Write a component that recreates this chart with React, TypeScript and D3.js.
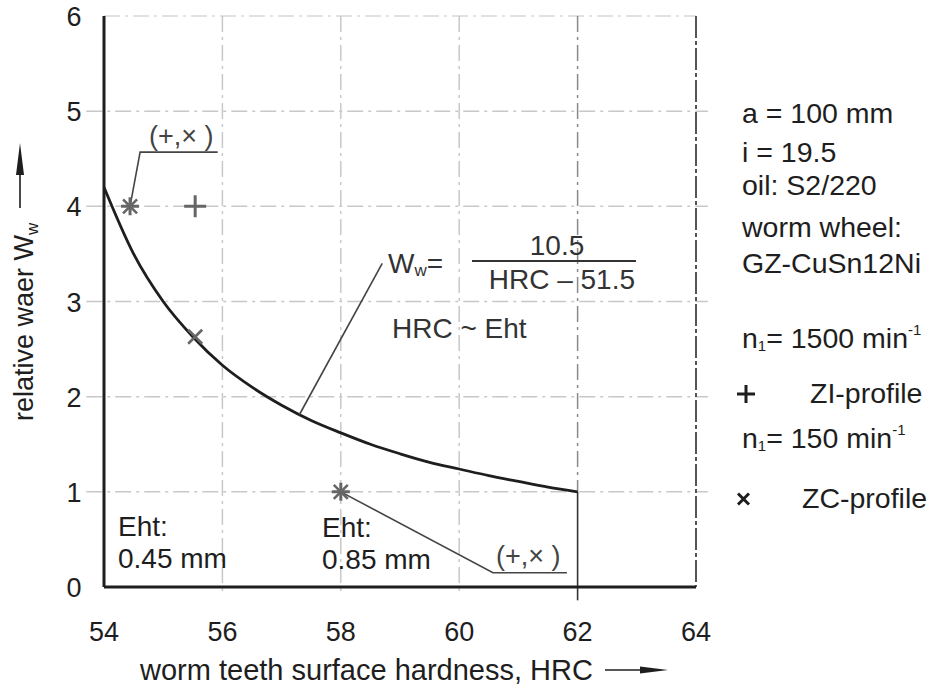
import * as d3 from 'd3'

// axis ticks
const hrcTicks = [54, 56, 58, 60, 62, 64]
const wearTicks = [0, 1, 2, 3, 4, 5, 6]

// curve W_w over HRC
const curveHrc = [54, 54.5, 55, 55.5, 56, 56.5, 57, 57.5, 58, 58.5, 59, 59.5, 60, 60.5, 61, 61.5, 62]
const curveWear = [4.2, 3.5, 3.0, 2.63, 2.33, 2.1, 1.91, 1.75, 1.62, 1.5, 1.4, 1.31, 1.24, 1.17, 1.11, 1.05, 1.0]

// measured points
const ziHrc = [54.44, 55.54, 58]
const ziWear = [4.0, 4.0, 1.0]
const zcHrc = [54.44, 55.54, 58]
const zcWear = [4.0, 2.63, 1.0]

// leader lines of the annotations
const leaderTop = [[54.44, 4.0], [54.61, 4.57], [55.92, 4.57]]
const leaderBottom = [[58, 1.0], [60.57, 0.15], [61.82, 0.15]]
const leaderFormula = [[57.3, 1.81], [58.7, 3.4]]

const W = 944
const H = 687
const font = 'Arial, "Liberation Sans", Helvetica, sans-serif'
const ink = '#1e1e1e'

export default function App() {
  const x = d3.scaleLinear().domain([54, 64]).range([104, 696])
  const y = d3.scaleLinear().domain([0, 6]).range([587, 16])

  const curve = d3
    .line<number>()
    .x((_, i) => x(curveHrc[i]))
    .y((d) => y(d))
    .curve(d3.curveMonotoneX)(curveWear)

  const leader = d3
    .line<number[]>()
    .x((d) => x(d[0]))
    .y((d) => y(d[1]))

  const plus = (cx: number, cy: number, r: number) => `M${cx - r},${cy}H${cx + r}M${cx},${cy - r}V${cy + r}`
  const cross = (cx: number, cy: number, r: number) =>
    `M${cx - r},${cy - r}L${cx + r},${cy + r}M${cx - r},${cy + r}L${cx + r},${cy - r}`

  const grid = '#c8c8c8'
  const dash = '16 5 3 5'

  return (
    <svg width={W} height={H} style={{ position: 'absolute', left: 0, top: 0, background: '#fff' }} fontFamily={font}>
      {/* grid */}
      {[1, 2, 3, 4, 5].map((v) => (
        <line key={'h' + v} x1={x(53.7)} x2={x(64.2)} y1={y(v)} y2={y(v)} stroke={grid} strokeWidth={1.5} strokeDasharray={dash} />
      ))}
      <line x1={x(54)} x2={x(64)} y1={y(6)} y2={y(6)} stroke="#d8d8d8" strokeWidth={1.5} strokeDasharray={dash} />
      {[56, 58, 60].map((v) => (
        <line key={'v' + v} x1={x(v)} x2={x(v)} y1={y(6)} y2={y(-0.05)} stroke={grid} strokeWidth={1.5} strokeDasharray={dash} />
      ))}
      <line x1={x(62)} x2={x(62)} y1={y(6)} y2={y(1)} stroke="#8a8a8a" strokeWidth={1.5} strokeDasharray={dash} />
      <line x1={x(62)} x2={x(62)} y1={y(1)} y2={y(-0.14)} stroke="#333" strokeWidth={1.6} />
      <line x1={x(64)} x2={x(64)} y1={y(6)} y2={y(0)} stroke="#555" strokeWidth={2} strokeDasharray="22 3 4 3" />

      {/* axes */}
      <line x1={x(54)} x2={x(54)} y1={y(6)} y2={y(0)} stroke={ink} strokeWidth={3} />
      <line x1={x(54)} x2={x(64)} y1={y(0)} y2={y(0)} stroke={ink} strokeWidth={3} />

      {hrcTicks.map((t) => (
        <text key={'xt' + t} x={x(t)} y={641} textAnchor="middle" fontSize={27} fill={ink}>
          {t}
        </text>
      ))}
      {wearTicks.map((t) => (
        <text key={'yt' + t} x={74} y={y(t) + 10} textAnchor="middle" fontSize={27} fill={ink}>
          {t}
        </text>
      ))}

      {/* axis titles */}
      <text x={140} y={680} fontSize={29} fill={ink}>
        worm teeth surface hardness, HRC
      </text>
      <line x1={605} x2={645} y1={670} y2={670} stroke={ink} strokeWidth={1.6} />
      <path d="M640,666.5L668,670L640,673.5Z" fill={ink} />

      <text transform="translate(33,421) rotate(-90)" fontSize={27} fill={ink}>
        relative waer W<tspan fontSize={17} dy={5}>w</tspan>
      </text>
      <line x1={20} x2={20} y1={208} y2={172} stroke={ink} strokeWidth={1.6} />
      <path d="M16,175L20,143L24,175Z" fill={ink} />

      {/* curve */}
      <path d={curve} fill="none" stroke={ink} strokeWidth={2.8} />

      {/* leaders */}
      <path d={leader(leaderTop)} fill="none" stroke="#444" strokeWidth={1.6} />
      <path d={leader(leaderBottom)} fill="none" stroke="#444" strokeWidth={1.6} />
      <path d={leader(leaderFormula)} fill="none" stroke="#444" strokeWidth={1.6} />

      {/* points */}
      {ziHrc.map((h, i) => (
        <path key={'zi' + i} d={plus(x(h), y(ziWear[i]), i === 1 ? 11 : 9)} stroke="#666" strokeWidth={3} />
      ))}
      {zcHrc.map((h, i) => (
        <path key={'zc' + i} d={cross(x(h), y(zcWear[i]), 7)} stroke="#666" strokeWidth={2.6} />
      ))}

      {/* annotations */}
      <text x={149} y={145} fontSize={27} fill="#444">
        (+,× )
      </text>
      <text x={496} y={565} fontSize={27} fill="#444">
        (+,× )
      </text>
      <text x={118} y={536} fontSize={28} fill={ink}>
        Eht:
      </text>
      <text x={118} y={568} fontSize={28} fill={ink}>
        0.45 mm
      </text>
      <text x={322} y={537} fontSize={28} fill={ink}>
        Eht:
      </text>
      <text x={322} y={569} fontSize={28} fill={ink}>
        0.85 mm
      </text>

      {/* formula */}
      <text x={388} y={273} fontSize={28} fill="#333">
        W<tspan fontSize={17} dy={3}>w</tspan>
        <tspan dy={-3}>=</tspan>
      </text>
      <text x={557} y={255} textAnchor="middle" fontSize={28} fill="#333">
        10.5
      </text>
      <line x1={472} x2={636} y1={261} y2={261} stroke="#333" strokeWidth={2.2} />
      <text x={635} y={289} textAnchor="end" fontSize={28} fill="#333">
        HRC – 51.5
      </text>
      <text x={392} y={338} fontSize={28} fill="#333">
        HRC ~ Eht
      </text>

      {/* side notes */}
      <g fontSize={28.5} fill={ink}>
        <text x={742} y={123}>a = 100 mm</text>
        <text x={742} y={162}>i = 19.5</text>
        <text x={742} y={195}>oil: S2/220</text>
        <text x={742} y={237}>worm wheel:</text>
        <text x={742} y={273}>GZ-CuSn12Ni</text>
        <text x={742} y={348}>
          n<tspan fontSize={15} dy={3}>1</tspan>
          <tspan dy={-3}>= 1500 min</tspan>
          <tspan fontSize={15} dy={-13}>-1</tspan>
        </text>
        <text x={810} y={403}>ZI-profile</text>
        <text x={742} y={448}>
          n<tspan fontSize={15} dy={3}>1</tspan>
          <tspan dy={-3}>= 150 min</tspan>
          <tspan fontSize={15} dy={-13}>-1</tspan>
        </text>
        <text x={802} y={508}>ZC-profile</text>
      </g>
      <path d={plus(746, 394, 9)} stroke={ink} strokeWidth={3} />
      <path d={cross(743.5, 499, 5.5)} stroke={ink} strokeWidth={3} />
    </svg>
  )
}
